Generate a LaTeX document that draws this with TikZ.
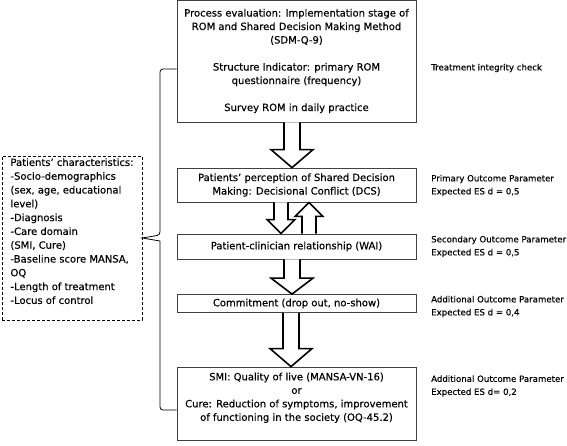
\documentclass[tikz,border=0pt]{standalone}
\usepackage{fontspec}
\setmainfont{DejaVu Sans}[FakeBold=0.4]
\usetikzlibrary{calc}

\tikzset{
  stagebox/.style={draw=black!75, line width=0.8pt, fill=white, align=center, minimum width=239pt, inner sep=2pt, font=\fontsize{10}{13.5}\selectfont},
  charbox/.style={draw=black, densely dashed, line width=0.6pt, align=left, minimum width=140pt, minimum height=164pt, inner sep=2pt, font=\fontsize{10}{13.8}\selectfont},
  outcome/.style={anchor=west, align=left, inner sep=0pt, font=\fontsize{8.6}{13}\selectfont},
  blockarrow/.style={draw=black, line width=1.6pt, fill=white},
  bracket/.style={draw=black, line width=0.8pt},
}

% hollow vertical arrow: start, end, shaft half width, head half width, head length
\newcommand{\hollowarrow}[5]{%
  \path[blockarrow] let \p1=#1, \p2=#2, \n1={(\y1>\y2)*2-1} in
    (\x1-#3,\y1) -- (\x1-#3,\y2+\n1*#5) -- (\x1-#4,\y2+\n1*#5) -- (\x1,\y2)
    -- (\x1+#4,\y2+\n1*#5) -- (\x1+#3,\y2+\n1*#5) -- (\x1+#3,\y1);}

\begin{document}
\begin{tikzpicture}[x=1pt, y=-1pt]
  \useasboundingbox (0,0) rectangle (567,445);

  % stages
  \node[stagebox, minimum height=122pt] (proc) at (296.5,61) {Process evaluation: Implementation stage of\\ROM and Shared Decision Making Method\\(SDM-Q-9)\\[13.5pt]Structure Indicator: primary ROM\\questionnaire (frequency)\\[13.5pt]Survey ROM in daily practice};
  \node[stagebox, minimum height=34pt] (dcs) at (296.5,185) {Patients' perception of Shared Decision\\Making: Decisional Conflict (DCS)};
  \node[stagebox, minimum height=25pt] (wai) at (296.5,246.5) {Patient-clinician relationship (WAI)};
  \node[stagebox, minimum height=18pt] (commit) at (296.5,303.5) {Commitment (drop out, no-show)};
  \node[stagebox, minimum height=73pt] (qol) at (296.5,403.5) {SMI: Quality of live (MANSA-VN-16)\\or\\Cure: Reduction of symptoms, improvement\\of functioning in the society (OQ-45.2)\\ \mbox{}};

  % patient characteristics
  \node[charbox] (chars) at (72,238) {Patients' characteristics:\\-Socio-demographics\\(sex, age, educational\\level)\\-Diagnosis\\-Care domain\\(SMI, Cure)\\-Baseline score MANSA,\\OQ\\-Length of treatment\\-Locus of control\\ \mbox{}};

  % labels on the right
  \node[outcome] (integ) at (431,68) {Treatment integrity check};
  \node[outcome] (prim) at (431,185.5) {Primary Outcome Parameter\\Expected ES d = 0,5};
  \node[outcome] (sec) at (431,246.5) {Secondary Outcome Parameter\\Expected ES d = 0,5};
  \node[outcome] (addA) at (431,306.5) {Additional Outcome Parameter\\Expected ES d = 0,4};
  \node[outcome] (addB) at (431,386) {Additional Outcome Parameter\\Expected ES d= 0,2};

  % arrows between stages
  \hollowarrow{([xshift=-4.5pt]proc.south)}{([xshift=-4.5pt]dcs.north)}{8pt}{21pt}{18pt}
  \hollowarrow{([xshift=-15.5pt]dcs.south)}{([xshift=-15.5pt]wai.north)}{7pt}{14pt}{14pt}
  \hollowarrow{([xshift=12.5pt]wai.north)}{([xshift=12.5pt]dcs.south)}{7pt}{14pt}{14pt}
  \hollowarrow{([xshift=-4.5pt]wai.south)}{([xshift=-4.5pt]commit.north)}{8pt}{21pt}{16pt}
  \hollowarrow{([xshift=-5.5pt]commit.south)}{([xshift=-5.5pt]qol.north)}{8pt}{21pt}{18pt}

  % bracket from the characteristics to the stages
  \coordinate (braceTop) at ([yshift=-8pt]proc.west);
  \coordinate (braceBot) at ([yshift=-6.5pt]qol.west);
  \draw[bracket, rounded corners=3pt] (braceTop) -- (160,69) -- (160,235) [sharp corners] -- (chars.east) -- (160,241) [rounded corners=3pt] -- (160,410) -- (braceBot);
\end{tikzpicture}
\end{document}
